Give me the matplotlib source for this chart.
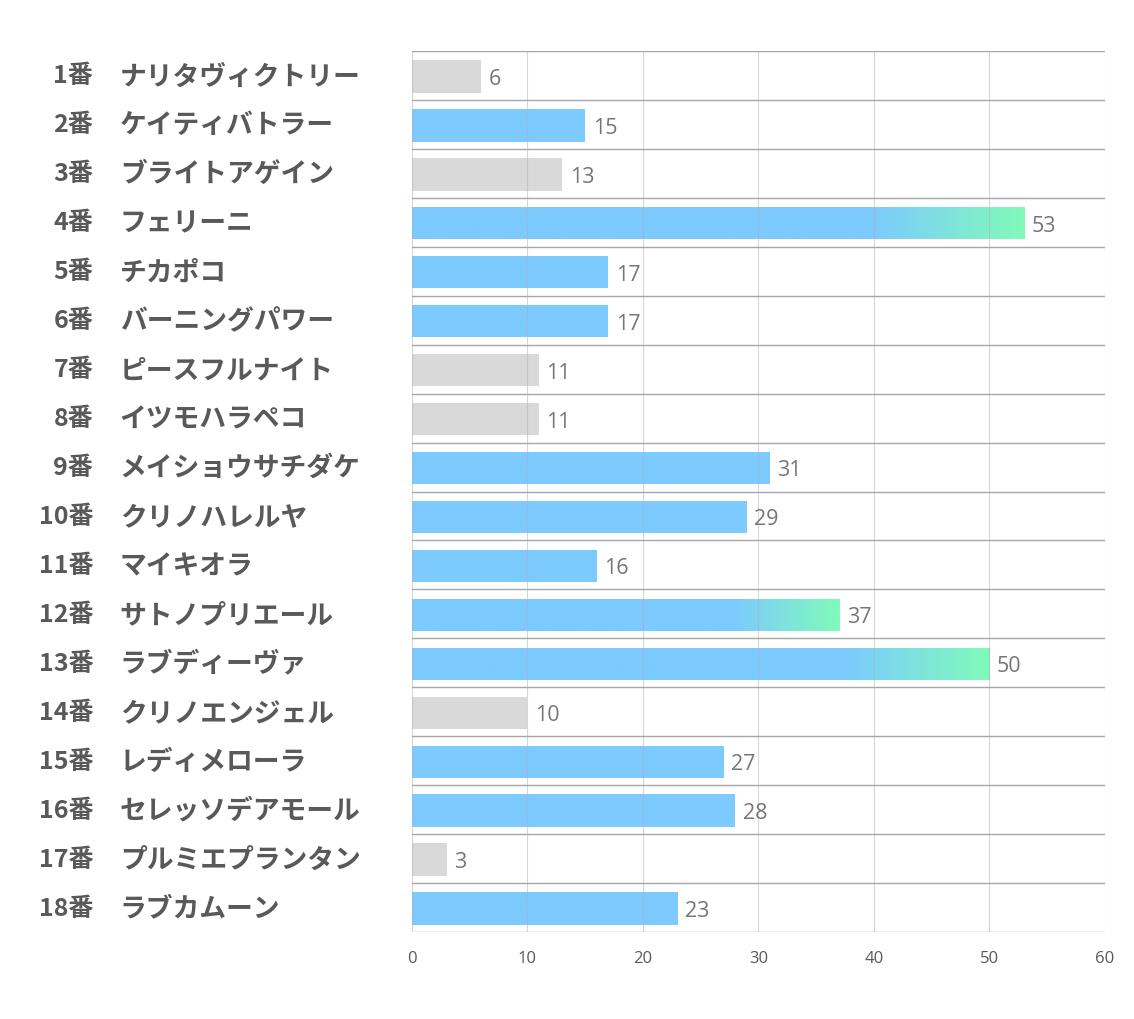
import numpy as np
import matplotlib
matplotlib.use("Agg")
from matplotlib import pyplot as plt
from matplotlib.colors import to_rgb

plt.rcParams['font.family'] = ['Noto Sans CJK JP', 'DejaVu Sans']

numbers = ["1番", "2番", "3番", "4番", "5番", "6番", "7番", "8番", "9番",
           "10番", "11番", "12番", "13番", "14番", "15番", "16番", "17番", "18番"]
names = ["ナリタヴィクトリー", "ケイティバトラー", "ブライトアゲイン", "フェリーニ",
         "チカポコ", "バーニングパワー", "ピースフルナイト", "イツモハラペコ",
         "メイショウサチダケ", "クリノハレルヤ", "マイキオラ", "サトノプリエール",
         "ラブディーヴァ", "クリノエンジェル", "レディメローラ", "セレッソデアモール",
         "プルミエプランタン", "ラブカムーン"]
values = [6, 15, 13, 53, 17, 17, 11, 11, 31, 29, 16, 37, 50, 10, 27, 28, 3, 23]
# g = gray, b = blue, h = highlighted (blue -> green gradient)
kinds = ["g", "b", "g", "h", "b", "b", "g", "g", "b", "b", "b", "h", "h", "g", "b", "b", "g", "b"]
xticks = [0, 10, 20, 30, 40, 50, 60]

BLUE = "#7CCAFF"
GREEN = "#80FBB9"
GRAY = "#D9D9D9"
bar_h = 0.66

fig = plt.figure(figsize=(11.34, 10.2), dpi=100)
ax = fig.add_axes([0.3633, 0.0853, 0.6111, 0.8637])

y = np.arange(len(values))
cols = [GRAY if k == "g" else BLUE for k in kinds]
bars = ax.barh(y + 0.02, values, height=bar_h, color=cols, zorder=2)

# gradient on the last quarter of highlighted bars
t = np.linspace(0, 1, 400)
w = np.clip((t - 0.75) / 0.25, 0, 1)
c0 = np.array(to_rgb(BLUE))
c1 = np.array(to_rgb(GREEN))
img = (c0[None, :] * (1 - w[:, None]) + c1[None, :] * w[:, None])[None, :, :]
for i, (v, k) in enumerate(zip(values, kinds)):
    if k == "h":
        im = ax.imshow(img, extent=[0, v, i + bar_h / 2 + 0.1, i - bar_h / 2 - 0.1],
                       aspect='auto', zorder=3, interpolation='bilinear')
        im.set_clip_path(bars[i])

ax.set_xlim(0, 60)
ax.set_ylim(len(values) - 0.5, -0.5)

# grid
for xv in xticks:
    ax.axvline(xv, color="#B0B0B0", lw=0.8, alpha=0.5, zorder=4)
for yb in np.arange(len(values) + 1) - 0.5:
    ax.axhline(yb, color="#A6A6A6", lw=1.0, zorder=4)

for s in ax.spines.values():
    s.set_visible(False)

ax.set_xticks(xticks)
ax.set_xticklabels([str(t) for t in xticks], fontsize=12, color="#595959",
                   family=['Open Sans', 'DejaVu Sans'])
ax.tick_params(axis='x', length=0, pad=13)
ax.set_yticks([])

for i, v in enumerate(values):
    ax.text(v + 0.65, i + 0.06, str(v), va='center', ha='left', fontsize=15.5,
            color="#767676", family=['Open Sans', 'DejaVu Sans'], zorder=5)

# row labels
for i in range(len(values)):
    ax.text(-27.6, i, numbers[i], transform=ax.transData, ha='right', va='center',
            fontsize=18, fontweight='bold', color="#595959", clip_on=False)
    ax.text(-25.3, i, names[i], transform=ax.transData, ha='left', va='center',
            fontsize=19.3, fontweight='bold', color="#595959", clip_on=False)

fig.savefig("out.png", dpi=100, facecolor="white")
